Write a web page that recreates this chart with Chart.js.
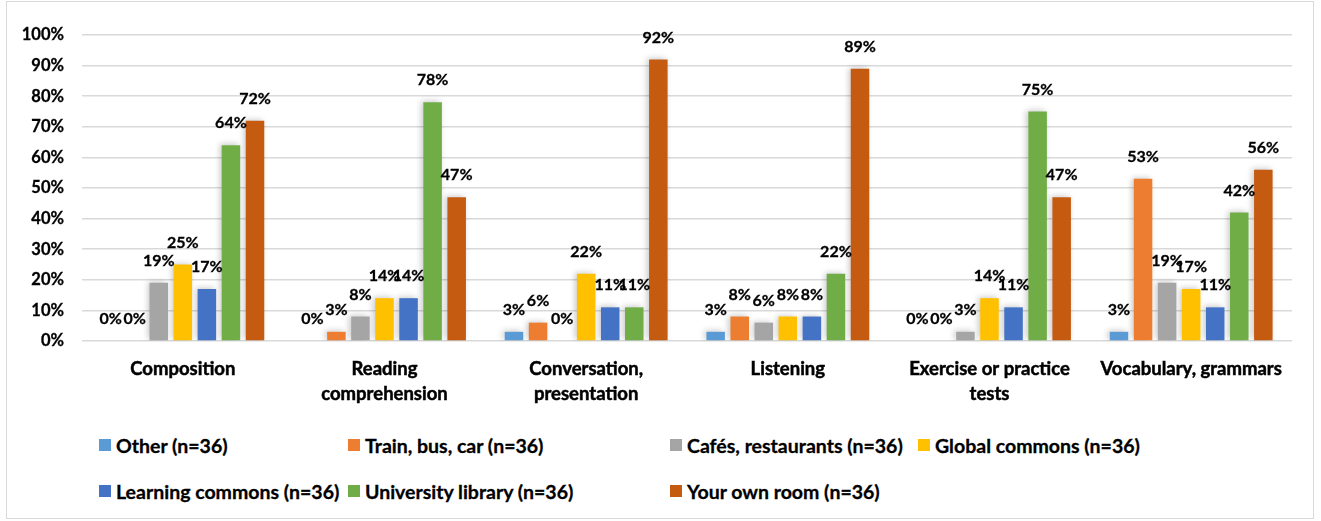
<!DOCTYPE html>
<html>
<head>
<meta charset="utf-8">
<script src="https://cdn.jsdelivr.net/npm/chart.js@4"></script>
<style>
  body { margin: 0; background: #fff; }
  #wrap { position: relative; width: 1321px; height: 521px; background: #fff; font-family: Lato, "Open Sans", sans-serif; }
  #frame { position: absolute; left: 6px; top: 1px; width: 1308px; height: 518px; border: 1px solid #d9d9d9; box-sizing: border-box; }
  #chart { position: absolute; left: 0; top: 0; }
  #legend { position: absolute; left: 99px; top: 430px; display: grid; grid-template-columns: 249px 322px 248px auto; row-gap: 16px; }
  .item { display: flex; align-items: center; font-weight: bold; font-size: 19.5px; color: #000; height: 30px; white-space: nowrap; -webkit-text-stroke: 0.3px #000; }
  .box { width: 12px; height: 12px; margin-right: 5px; }
</style>
</head>
<body>
<div id="wrap">
  <div id="frame"></div>
  <canvas id="chart" width="1321" height="415"></canvas>
  <div id="legend"></div>
</div>
<script>
// categories and values (percent)
const categories = [
  "Composition",
  ["Reading", "comprehension"],
  ["Conversation,", "presentation"],
  "Listening",
  ["Exercise or practice", "tests"],
  "Vocabulary, grammars"
];
const seriesNames = [
  "Other (n=36)",
  "Train, bus, car (n=36)",
  "Cafés, restaurants (n=36)",
  "Global commons (n=36)",
  "Learning commons (n=36)",
  "University library (n=36)",
  "Your own room (n=36)"
];
const other      = [0, 0, 3, 3, 0, 3];
const trainBus   = [0, 3, 6, 8, 0, 53];
const cafes      = [19, 8, 0, 6, 3, 19];
const globalComm = [25, 14, 22, 8, 14, 17];
const learnComm  = [17, 14, 11, 8, 11, 11];
const uniLibrary = [64, 78, 11, 22, 75, 42];
const ownRoom    = [72, 47, 92, 89, 47, 56];
const yTicks = [0, 10, 20, 30, 40, 50, 60, 70, 80, 90, 100];

const colors = ["#5B9BD5", "#ED7D31", "#A5A5A5", "#FFC000", "#4472C4", "#70AD47", "#C55A11"];
const allSeries = [other, trainBus, cafes, globalComm, learnComm, uniLibrary, ownRoom];

const fontFamily = "Lato, 'Open Sans', sans-serif";

// draw value labels above each bar
const valueLabels = {
  id: "valueLabels",
  afterDatasetsDraw(chart) {
    const ctx = chart.ctx;
    ctx.save();
    ctx.font = "bold 16px " + fontFamily;
    ctx.fillStyle = "#000";
    ctx.strokeStyle = "#000";
    ctx.lineWidth = 0.3;
    ctx.textAlign = "center";
    ctx.textBaseline = "middle";
    chart.data.datasets.forEach((ds, i) => {
      chart.getDatasetMeta(i).data.forEach((bar, j) => {
        ctx.fillText(ds.data[j] + "%", bar.x, bar.y - 22);
        ctx.strokeText(ds.data[j] + "%", bar.x, bar.y - 22);
      });
    });
    ctx.restore();
  }
};

// soft shadow like the original bars
const barShadow = {
  id: "barShadow",
  beforeDatasetsDraw(chart) {
    const ctx = chart.ctx;
    ctx.save();
    ctx.shadowColor = "rgba(0,0,0,0.22)";
    ctx.shadowBlur = 6;
    ctx.shadowOffsetX = -2;
    ctx.shadowOffsetY = -1;
  },
  afterDatasetsDraw(chart) {
    chart.ctx.restore();
  }
};

new Chart(document.getElementById("chart"), {
  type: "bar",
  data: {
    labels: categories,
    datasets: allSeries.map((d, i) => ({
      label: seriesNames[i],
      data: d,
      backgroundColor: colors[i],
      borderWidth: 0,
      categoryPercentage: 0.835,
      barPercentage: 0.77
    }))
  },
  options: {
    responsive: false,
    animation: false,
    layout: { padding: { top: 35, right: 29, left: 0, bottom: 0 } },
    plugins: {
      legend: { display: false },
      tooltip: { enabled: false }
    },
    scales: {
      x: {
        grid: { display: false },
        border: { display: false },
        ticks: {
          color: "#000",
          textStrokeColor: "#000",
          textStrokeWidth: 0.5,
          font: { family: fontFamily, size: 18.5, weight: "bold", lineHeight: 1.32 },
          padding: 8,
          autoSkip: false,
          maxRotation: 0
        },
        afterFit: s => { s.height = 74; }
      },
      y: {
        min: 0,
        max: 100,
        afterBuildTicks: s => { s.ticks = yTicks.map(v => ({ value: v })); },
        grid: { color: "#D9D9D9", lineWidth: 1.5, drawTicks: false },
        border: { display: false },
        ticks: {
          color: "#000",
          textStrokeColor: "#000",
          textStrokeWidth: 0.3,
          font: { family: fontFamily, size: 16.5, weight: "bold" },
          padding: 18,
          callback: v => v + "%"
        },
        afterFit: s => { s.width = 82; }
      }
    }
  },
  plugins: [barShadow, valueLabels]
});

// legend in the Excel grid layout
const legend = document.getElementById("legend");
seriesNames.forEach((name, i) => {
  const item = document.createElement("div");
  item.className = "item";
  const box = document.createElement("span");
  box.className = "box";
  box.style.background = colors[i];
  item.appendChild(box);
  item.appendChild(document.createTextNode(name));
  legend.appendChild(item);
});
</script>
</body>
</html>
